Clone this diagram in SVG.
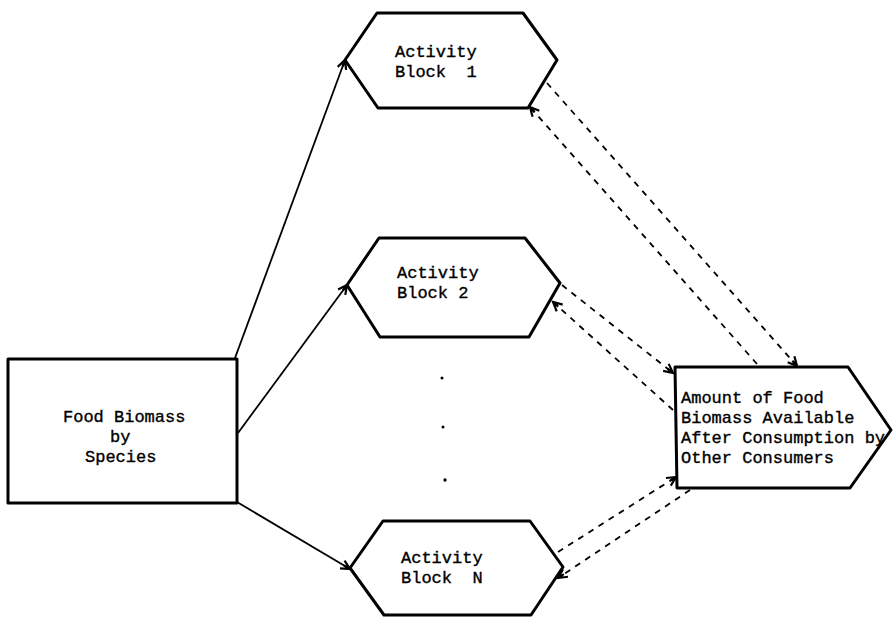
<svg xmlns="http://www.w3.org/2000/svg" width="893" height="619" viewBox="0 0 893 619">
<style>
.shape{fill:#fff;stroke:#000;stroke-width:3;stroke-linejoin:round}
.lbl{font-family:"Liberation Mono","DejaVu Sans Mono",monospace;font-size:17px;fill:#000;stroke:#000;stroke-width:0.35}
.solid{fill:none;stroke:#000;stroke-width:1.8}
.dash{fill:none;stroke:#000;stroke-width:1.8;stroke-dasharray:6 6}
</style>
<defs>
<marker id="arr" viewBox="-10 -6 12 12" refX="0" refY="0" markerWidth="12" markerHeight="12" markerUnits="userSpaceOnUse" orient="auto">
<path d="M-9,-4.5 L0,0 L-9,4.5 M0,0 L-7,0" fill="none" stroke="#000" stroke-width="2.2"/>
</marker>
</defs>
<rect width="893" height="619" fill="#fff"/>
<g id="connectors">
<line class="solid" x1="235" y1="358" x2="345" y2="60" marker-end="url(#arr)"/>
<line class="solid" x1="238" y1="433" x2="347" y2="285" marker-end="url(#arr)"/>
<line class="solid" x1="237" y1="502" x2="350" y2="569" marker-end="url(#arr)"/>
<line class="dash" x1="547" y1="83" x2="797" y2="366" marker-end="url(#arr)"/>
<line class="dash" x1="757" y1="364" x2="530" y2="107" marker-end="url(#arr)"/>
<line class="dash" x1="562" y1="285" x2="673" y2="373" marker-end="url(#arr)"/>
<line class="dash" x1="673" y1="410" x2="553" y2="302" marker-end="url(#arr)"/>
<line class="dash" x1="558" y1="552" x2="676" y2="477" marker-end="url(#arr)"/>
<line class="dash" x1="690" y1="490" x2="558" y2="578" marker-end="url(#arr)"/>
</g>
<g id="food-biomass">
<rect class="shape" x="8" y="359" width="229" height="144"/>
<text class="lbl" x="63" y="422">Food Biomass</text>
<text class="lbl" x="110" y="442">by</text>
<text class="lbl" x="85" y="462">Species</text>
</g>
<g id="activity-1">
<polygon class="shape" points="345,60 377,13 523,13 557,60 528,108 378,108"/>
<text class="lbl" x="395" y="57">Activity</text>
<text class="lbl" x="395" y="77" xml:space="preserve">Block  1</text>
</g>
<g id="activity-2">
<polygon class="shape" points="347,285 379,238 525,238 560,283 529,337 380,337"/>
<text class="lbl" x="397" y="278">Activity</text>
<text class="lbl" x="397" y="298">Block 2</text>
</g>
<g id="activity-n">
<polygon class="shape" points="350,568 383,521 530,521 563,567 531,615 384,615"/>
<text class="lbl" x="401" y="563">Activity</text>
<text class="lbl" x="401" y="583" xml:space="preserve">Block  N</text>
</g>
<g id="dots">
<circle cx="442" cy="378" r="1.5" fill="#000"/>
<circle cx="443" cy="427" r="1.5" fill="#000"/>
<circle cx="445" cy="480" r="1.7" fill="#000"/>
</g>
<g id="available-food">
<polygon class="shape" points="675,367 848,367 891,430 850,488 677,488"/>
<text class="lbl" x="681" y="403">Amount of Food</text>
<text class="lbl" x="681" y="423">Biomass Available</text>
<text class="lbl" x="681" y="443">After Consumption by</text>
<text class="lbl" x="681" y="463">Other Consumers</text>
</g>
</svg>
